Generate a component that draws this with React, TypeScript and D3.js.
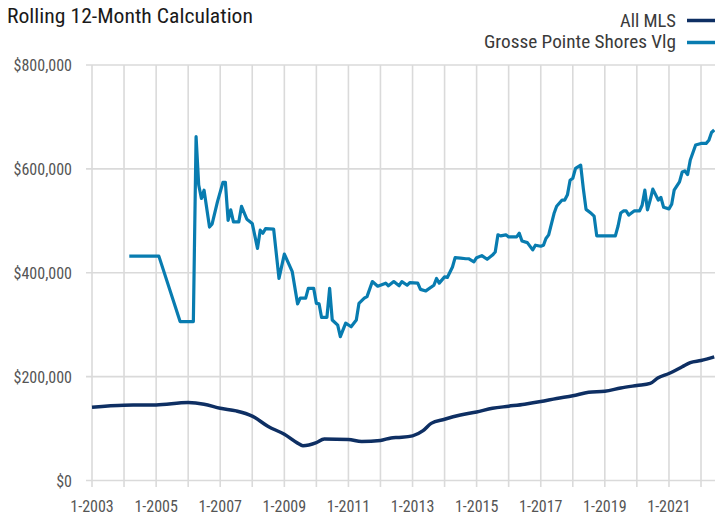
import React from "react";
import * as d3 from "d3";

const title = "Rolling 12-Month Calculation";
const seriesNames = ["All MLS", "Grosse Pointe Shores Vlg"];
const yTicks = [0, 200000, 400000, 600000, 800000];
const xTickYears = [2003, 2005, 2007, 2009, 2011, 2013, 2015, 2017, 2019, 2021];
const gridYears = [2003, 2004, 2005, 2006, 2007, 2008, 2009, 2010, 2011, 2012, 2013, 2014, 2015, 2016, 2017, 2018, 2019, 2020, 2021, 2022];

const mlsDates = [
  "2003-01", "2004-01", "2005-01", "2006-01", "2006-07", "2007-01", "2007-07", "2008-01", "2008-07",
  "2009-01", "2009-06", "2009-08", "2010-01", "2010-04", "2011-01", "2011-06", "2012-01", "2012-05",
  "2012-08", "2013-01", "2013-05", "2013-08", "2014-01", "2014-07", "2015-01", "2015-07", "2016-01",
  "2016-07", "2017-01", "2017-07", "2018-01", "2018-07", "2019-01", "2019-07", "2020-01", "2020-06",
  "2020-09", "2021-01", "2021-06", "2021-09", "2022-01", "2022-06",
];
const mlsValues = [
  141000, 145000, 145500, 150000, 147000, 139000, 134000, 124000, 104000,
  89000, 72000, 67000, 73000, 80000, 79000, 75000, 77000, 82000,
  83000, 86000, 96000, 110000, 118000, 126000, 132000, 139000, 143000,
  147000, 152000, 158000, 163000, 170000, 172000, 178000, 183000, 187000,
  198000, 206000, 219000, 227000, 231000, 238000,
];

const gpDates = [
  "2004-03", "2005-02", "2005-10", "2006-03", "2006-04", "2006-05", "2006-06", "2006-07", "2006-09",
  "2006-10", "2006-12", "2007-02", "2007-03", "2007-04", "2007-05", "2007-06", "2007-08", "2007-09",
  "2007-11", "2008-01", "2008-03", "2008-04", "2008-05", "2008-06", "2008-09", "2008-11", "2009-01",
  "2009-04", "2009-06", "2009-07", "2009-09", "2009-10", "2009-12", "2010-01", "2010-02", "2010-03",
  "2010-05", "2010-06", "2010-07", "2010-09", "2010-10", "2010-12", "2011-02", "2011-04", "2011-05",
  "2011-07", "2011-08", "2011-10", "2011-12", "2012-03", "2012-04", "2012-06", "2012-08", "2012-09",
  "2012-11", "2012-12", "2013-03", "2013-04", "2013-06", "2013-09", "2013-10", "2013-11", "2014-01",
  "2014-02", "2014-04", "2014-05", "2014-07", "2014-09", "2014-10", "2014-12", "2015-01", "2015-03",
  "2015-05", "2015-07", "2015-08", "2015-09", "2015-10", "2015-12", "2016-01", "2016-04", "2016-05",
  "2016-06", "2016-08", "2016-10", "2016-11", "2017-01", "2017-02", "2017-03", "2017-04", "2017-06",
  "2017-07", "2017-09", "2017-10", "2017-11", "2017-12", "2018-01", "2018-02", "2018-04", "2018-05",
  "2018-06", "2018-08", "2018-09", "2018-10", "2019-05", "2019-06", "2019-07", "2019-08", "2019-09",
  "2019-10", "2019-12", "2020-02", "2020-03", "2020-04", "2020-05", "2020-06", "2020-07", "2020-09",
  "2020-10", "2020-11", "2021-01", "2021-02", "2021-03", "2021-05", "2021-06", "2021-07", "2021-08",
  "2021-09", "2021-11", "2022-01", "2022-03", "2022-04", "2022-05", "2022-06",
];
const gpValues = [
  432000, 432000, 306000, 306000, 662000, 569000, 543000, 559000, 488000,
  494000, 537000, 574000, 574000, 501000, 521000, 498000, 498000, 528000,
  503000, 495000, 447000, 482000, 476000, 485000, 484000, 389000, 436000,
  402000, 340000, 351000, 351000, 370000, 370000, 341000, 340000, 314000,
  314000, 370000, 309000, 299000, 277000, 303000, 296000, 309000, 341000,
  351000, 354000, 383000, 374000, 380000, 375000, 383000, 375000, 383000,
  376000, 381000, 380000, 368000, 365000, 376000, 389000, 380000, 392000,
  391000, 411000, 429000, 428000, 427000, 427000, 421000, 429000, 433000,
  426000, 434000, 440000, 473000, 471000, 473000, 469000, 469000, 476000,
  461000, 458000, 444000, 453000, 451000, 453000, 466000, 473000, 514000,
  528000, 540000, 540000, 550000, 578000, 582000, 601000, 607000, 562000,
  522000, 514000, 509000, 471000, 471000, 490000, 515000, 519000, 519000,
  511000, 519000, 519000, 530000, 559000, 521000, 540000, 561000, 540000,
  545000, 526000, 523000, 532000, 559000, 575000, 594000, 596000, 589000,
  617000, 646000, 649000, 649000, 655000, 670000, 675000,
];

const parseMonth = d3.timeParse("%Y-%m");
const FONT = "'Liberation Sans Narrow', 'Arial Narrow', 'Roboto Condensed', 'Liberation Sans', sans-serif";
const MLS_COLOR = "#0e2f63";
const GP_COLOR = "#087cb0";
const GRID = "#dadada";

export default function App() {
  const x = d3.scaleTime()
    .domain([new Date(2003, 0, 1), new Date(2022, 0, 1)])
    .range([92, 701]);
  const y = d3.scaleLinear().domain([0, 800000]).range([480.5, 65]);

  const mls = mlsDates.map((d, i) => ({ date: parseMonth(d) as Date, v: mlsValues[i] }));
  const gp = gpDates.map((d, i) => ({ date: parseMonth(d) as Date, v: gpValues[i] }));

  const lineMls = d3.line<{ date: Date; v: number }>()
    .x((d) => x(d.date))
    .y((d) => y(d.v))
    .curve(d3.curveMonotoneX);
  const lineGp = d3.line<{ date: Date; v: number }>()
    .x((d) => x(d.date))
    .y((d) => y(d.v));

  const fmt = (v: number) => "$" + d3.format(",")(v);

  return (
    <svg width={715} height={515} style={{ position: "absolute", left: 0, top: 0, background: "#fff" }}>
      <text x={7} y={23} fontFamily={FONT} fontSize={21} fill="#1a1a1a" textLength={246} lengthAdjust="spacingAndGlyphs">
        {title}
      </text>
      {/* legend */}
      <text x={676} y={26.5} textAnchor="end" fontFamily={FONT} fontSize={19} fill="#3a3a3a" textLength={56} lengthAdjust="spacingAndGlyphs">
        {seriesNames[0]}
      </text>
      <line x1={687} x2={715} y1={20.5} y2={20.5} stroke={MLS_COLOR} strokeWidth={3.5} />
      <text x={676} y={47.5} textAnchor="end" fontFamily={FONT} fontSize={19} fill="#3a3a3a" textLength={192} lengthAdjust="spacingAndGlyphs">
        {seriesNames[1]}
      </text>
      <line x1={687} x2={715} y1={42.5} y2={42.5} stroke={GP_COLOR} strokeWidth={3.5} />

      {/* horizontal grid */}
      {yTicks.map((t) => (
        <g key={"y" + t}>
          <line x1={86} x2={715} y1={y(t)} y2={y(t)} stroke={GRID} strokeWidth={1.6} />
          <text x={72} y={y(t) + 6} textAnchor="end" fontFamily={FONT} fontSize={16} fill="#555">
            {fmt(t)}
          </text>
        </g>
      ))}
      {/* vertical grid */}
      {gridYears.map((yr) => (
        <line key={"g" + yr} x1={x(new Date(yr, 0, 1))} x2={x(new Date(yr, 0, 1))} y1={65} y2={487} stroke={GRID} strokeWidth={1.6} />
      ))}
      {xTickYears.map((yr) => (
        <text key={"t" + yr} x={x(new Date(yr, 0, 1))} y={511.5} textAnchor="middle" fontFamily={FONT} fontSize={16} fill="#555">
          {"1-" + yr}
        </text>
      ))}

      <path d={lineMls(mls) || ""} fill="none" stroke={MLS_COLOR} strokeWidth={3.5} strokeLinejoin="round" />
      <path d={lineGp(gp) || ""} fill="none" stroke={GP_COLOR} strokeWidth={3.2} strokeLinejoin="round" />
    </svg>
  );
}
